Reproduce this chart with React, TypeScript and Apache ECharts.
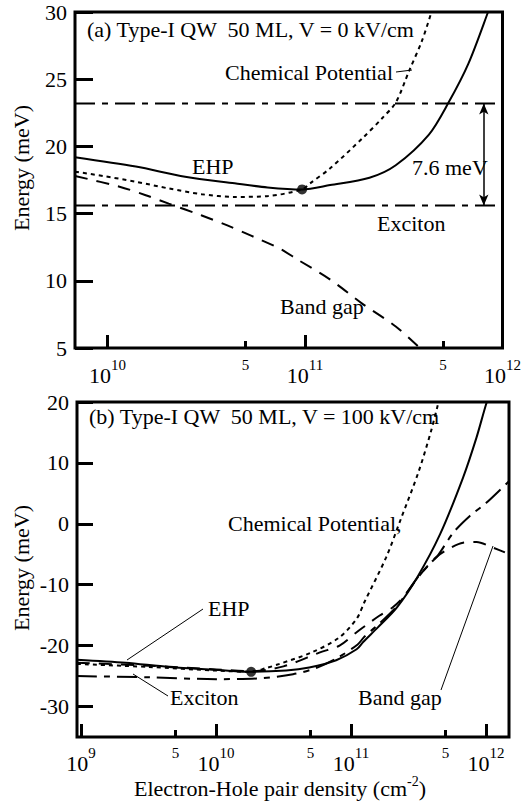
import { useEffect, useRef } from 'react';
import * as echarts from 'echarts';

const FONT = '"Liberation Serif", "Times New Roman", Times, serif';

// ---------- shared tick values ----------
const decadeTicks = [1e9, 1e10, 1e11, 1e12];
const fiveTicks = [5e9, 5e10, 5e11];

// ---------- panel (a): V = 0 kV/cm ----------
const aDensityRange = [6.84e9, 1e12];
const aEnergyRange = [5, 30];
const aEHP: number[][] = [
  [6.84e9, 19.2], [1.39e10, 18.5], [2.47e10, 17.74], [4.4e10, 17.25], [6.46e10, 16.95],
  [9.66e10, 16.8], [1.34e11, 17.12], [2.12e11, 17.67], [2.88e11, 18.6], [4.24e11, 20.88],
  [5.33e11, 23.26], [6.71e11, 26.14], [8.45e11, 30.0], [8.9e11, 31.0],
];
const aChemPot: number[][] = [
  [6.84e9, 18.12], [9.48e9, 17.8], [1.39e10, 17.37], [2.04e10, 16.87], [3.0e10, 16.44],
  [4.4e10, 16.24], [6.46e10, 16.3], [9.66e10, 16.8], [1.06e11, 17.25], [1.34e11, 18.37],
  [1.96e11, 20.63], [2.47e11, 22.13], [2.88e11, 23.26], [3.37e11, 25.64], [3.92e11, 27.9],
  [4.4e11, 30.15],
];
const aBandGap: number[][] = [
  [6.84e9, 17.8], [1.15e10, 17.0], [1.56e10, 16.37], [2.04e10, 15.74], [3.0e10, 14.86],
  [4.07e10, 14.1], [5.33e10, 13.36], [7.53e10, 12.36], [9.12e10, 11.6], [1.33e11, 10.13],
  [1.97e11, 8.25], [2.88e11, 6.6], [3.85e11, 4.94],
];
const aExcitonLevel = 15.6;
const aUpperLevel = 23.2;
const aDot = [9.66e10, 16.8];
const aArrowDensity = 8.04e11;

// ---------- panel (b): V = 100 kV/cm ----------
const bDensityRange = [9.33e8, 1.48e12];
const bEnergyRange = [-35, 20];
const bEnergyTicks = [-30, -20, -10, 0, 10, 20];
const bEHP: number[][] = [
  [9.33e8, -22.3], [2.14e9, -22.8], [4.47e9, -23.5], [1.05e10, -24.0], [1.82e10, -24.3],
  [3.31e10, -24.1], [4.9e10, -23.6], [7.76e10, -22.4], [1.1e11, -20.6], [1.23e11, -19.4],
  [1.58e11, -17.0], [2.19e11, -13.7], [3.09e11, -8.8], [4.57e11, -1.7], [6.76e11, 7.6],
  [8.51e11, 14.2], [1.0e12, 19.6], [1.05e12, 20.8],
];
const bChemPot: number[][] = [
  [9.33e8, -23.0], [3.16e9, -23.5], [1.0e10, -24.1], [1.82e10, -24.3], [2.34e10, -23.7],
  [2.95e10, -23.0], [5.13e10, -21.1], [8.13e10, -18.7], [1.1e11, -15.6], [1.26e11, -12.8],
  [1.82e11, -5.5], [2.34e11, 0.8], [3.16e11, 8.5], [3.89e11, 15.0], [4.37e11, 19.3],
  [4.57e11, 21.0],
];
const bBandGap: number[][] = [
  [9.33e8, -22.8], [3.16e9, -23.3], [1.0e10, -23.9], [1.82e10, -24.2], [3.16e10, -23.4],
  [5.89e10, -21.1], [8.22e10, -20.0], [1.1e11, -17.8], [1.38e11, -16.2], [1.62e11, -15.1],
  [2.04e11, -13.7], [2.43e11, -12.1], [3.09e11, -9.0], [3.8e11, -6.6], [4.37e11, -5.3],
  [5.5e11, -3.9], [6.76e11, -3.1], [8.51e11, -3.0], [1.12e12, -3.9], [1.38e12, -4.7],
];
const bExciton: number[][] = [
  [9.33e8, -25.0], [3.16e9, -25.2], [1.0e10, -25.5], [2.0e10, -25.4], [3.72e10, -24.7],
  [5.62e10, -23.6], [7.94e10, -22.0], [1.12e11, -19.8], [1.26e11, -18.5], [1.58e11, -16.6],
  [2.19e11, -13.5], [3.09e11, -8.9], [3.98e11, -6.2], [4.37e11, -5.3], [5.75e11, -1.4],
  [7.59e11, 1.3], [1.0e12, 3.4], [1.48e12, 7.0],
];
const bDot = [1.82e10, -24.3];

// ---------- texts ----------
const titleA = '(a) Type-I QW  50 ML, V = 0 kV/cm';
const titleB = '(b) Type-I QW  50 ML, V = 100 kV/cm';
const yName = 'Energy (meV)';

const lg = (v: number) => Math.log10(v);

const DASH = [13, 9];
const DOT = [4, 4];
const DASHDOT = [20, 7, 6, 7];

function tickAxes(gridIndex: number, range: number[], majorLen: number, margin: number) {
  const lo = lg(range[0]);
  const hi = lg(range[1]);
  const inR = (v: number) => v >= lo - 1e-9 && v <= hi + 1e-9;
  const majors = decadeTicks.map(lg).filter(inR);
  const fives = fiveTicks.map(lg).filter(inR);
  const base = {
    type: 'value',
    gridIndex,
    min: lo,
    max: hi,
    position: 'bottom',
    axisLine: { show: false },
    splitLine: { show: false },
  };
  return [
    {
      ...base,
      axisTick: { show: true, inside: true, length: majorLen, customValues: majors, lineStyle: { color: '#000', width: 3 } },
      axisLabel: {
        show: true,
        customValues: majors,
        margin,
        color: '#000',
        formatter: (v: number) => `{b|10}{e|${Math.round(v)}}`,
        rich: {
          b: { fontFamily: FONT, fontSize: 22, padding: [7, 0, 0, 0], verticalAlign: 'bottom', color: '#000' },
          e: { fontFamily: FONT, fontSize: 15, verticalAlign: 'top', color: '#000' },
        },
      },
    },
    {
      ...base,
      axisTick: { show: true, inside: true, length: 7, customValues: fives, lineStyle: { color: '#000', width: 3 } },
      axisLabel: {
        show: true,
        customValues: fives,
        margin,
        color: '#000',
        formatter: () => '{f|5}',
        rich: { f: { fontFamily: FONT, fontSize: 15, verticalAlign: 'top', color: '#000' } },
      },
    },
  ];
}

function curve(data: number[][], xi: number, yi: number, type: any, width = 2) {
  return {
    type: 'line',
    xAxisIndex: xi,
    yAxisIndex: yi,
    data,
    symbol: 'none',
    smooth: 0.3,
    clip: true,
    silent: true,
    lineStyle: { color: '#000', width, type },
  };
}

function txt(x: number, y: number, text: string, align = 'left', extra: any = {}) {
  return {
    type: 'text',
    x,
    y,
    silent: true,
    ...extra,
    style: {
      text,
      fontFamily: FONT,
      fontSize: 22,
      fill: '#000',
      textAlign: align,
      textVerticalAlign: 'middle',
    },
  };
}

function seg(x1: number, y1: number, x2: number, y2: number) {
  return { type: 'line', silent: true, shape: { x1, y1, x2, y2 }, style: { stroke: '#000', lineWidth: 1 } };
}

export default function App() {
  const ref = useRef<HTMLDivElement>(null);

  useEffect(() => {
    if (!ref.current) return;
    const chart = echarts.init(ref.current, undefined, { renderer: 'svg' });

    const yAxisCommon = {
      type: 'value',
      axisLine: { show: false },
      splitLine: { show: false },
      axisTick: { show: true, inside: true, length: 18, lineStyle: { color: '#000', width: 3 } },
      axisLabel: { color: '#000', fontFamily: FONT, fontSize: 22, margin: 8 },
    };

    const option: any = {
      animation: false,
      backgroundColor: '#fff',
      grid: [
        { left: 75, top: 12, width: 434, height: 336, show: true, borderColor: '#000', borderWidth: 3, backgroundColor: 'transparent' },
        { left: 77, top: 402, width: 432, height: 335, show: true, borderColor: '#000', borderWidth: 3, backgroundColor: 'transparent' },
      ],
      xAxis: [
        { type: 'log', gridIndex: 0, min: aDensityRange[0], max: aDensityRange[1], show: false },
        ...tickAxes(0, aDensityRange, 13, 9),
        { type: 'log', gridIndex: 1, min: bDensityRange[0], max: bDensityRange[1], show: false },
        ...tickAxes(1, bDensityRange, 13, 8).map((a, i) =>
          i === 0
            ? {
                ...a,
                name: '{a|Electron-Hole pair density (cm}{s|-2}{a|)}',
                nameLocation: 'middle',
                nameGap: 37,
                nameTextStyle: {
                  padding: [0, 26, 0, 0],
                  rich: {
                    a: { fontFamily: FONT, fontSize: 22, padding: [3, 0, 0, 0], verticalAlign: 'bottom', color: '#000' },
                    s: { fontFamily: FONT, fontSize: 14, verticalAlign: 'top', color: '#000' },
                  },
                },
              }
            : a,
        ),
      ],
      yAxis: [
        { ...yAxisCommon, gridIndex: 0, min: aEnergyRange[0], max: aEnergyRange[1], interval: 5 },
        {
          ...yAxisCommon,
          gridIndex: 1,
          min: bEnergyRange[0],
          max: bEnergyRange[1],
          axisTick: { ...yAxisCommon.axisTick, length: 16, customValues: bEnergyTicks },
          axisLabel: { ...yAxisCommon.axisLabel, customValues: bEnergyTicks },
        },
      ],
      series: [
        // panel (a)
        curve(aEHP, 0, 0, 'solid'),
        curve(aChemPot, 0, 0, DOT),
        curve(aBandGap, 0, 0, DASH),
        {
          ...curve([[aDensityRange[0], aExcitonLevel], [aDensityRange[1], aExcitonLevel]], 0, 0, DASHDOT),
          smooth: false,
          markLine: {
            silent: true,
            symbol: ['arrow', 'arrow'],
            symbolSize: [7, 11],
            label: { show: false },
            lineStyle: { color: '#000', width: 1.5, type: 'solid' },
            data: [[{ coord: [aArrowDensity, aUpperLevel] }, { coord: [aArrowDensity, aExcitonLevel] }]],
          },
        },
        { ...curve([[aDensityRange[0], aUpperLevel], [aDensityRange[1], aUpperLevel]], 0, 0, DASHDOT), smooth: false },
        {
          type: 'scatter', xAxisIndex: 0, yAxisIndex: 0, data: [aDot], symbolSize: 10,
          itemStyle: { color: '#000' }, silent: true,
        },
        // panel (b)
        curve(bChemPot, 3, 1, DOT),
        curve(bBandGap, 3, 1, DASH),
        curve(bExciton, 3, 1, DASHDOT),
        curve(bEHP, 3, 1, 'solid'),
        {
          type: 'scatter', xAxisIndex: 3, yAxisIndex: 1, data: [bDot], symbolSize: 10,
          itemStyle: { color: '#000' }, silent: true,
        },
      ],
      graphic: [
        txt(21, 168, yName, 'center', { rotation: Math.PI / 2 }),
        txt(21, 568, yName, 'center', { rotation: Math.PI / 2 }),
        txt(87, 29, titleA),
        txt(393, 72, 'Chemical Potential', 'right'),
        seg(396, 72, 412, 70),
        txt(192, 166, 'EHP'),
        txt(412, 167, '7.6 meV'),
        txt(377, 223, 'Exciton'),
        txt(280, 306, 'Band gap'),
        txt(89, 416, titleB),
        txt(228, 523, 'Chemical Potential,'),
        txt(208, 608, 'EHP'),
        seg(203, 609, 127, 660),
        txt(170, 697, 'Exciton'),
        seg(168, 696, 133, 674),
        txt(358, 697, 'Band gap'),
        seg(441, 690, 493, 546),
      ],
    };

    chart.setOption(option);
    return () => chart.dispose();
  }, []);

  return (
    <div
      ref={ref}
      style={{ position: 'absolute', left: 0, top: 0, width: 524, height: 808, background: '#fff' }}
    />
  );
}
